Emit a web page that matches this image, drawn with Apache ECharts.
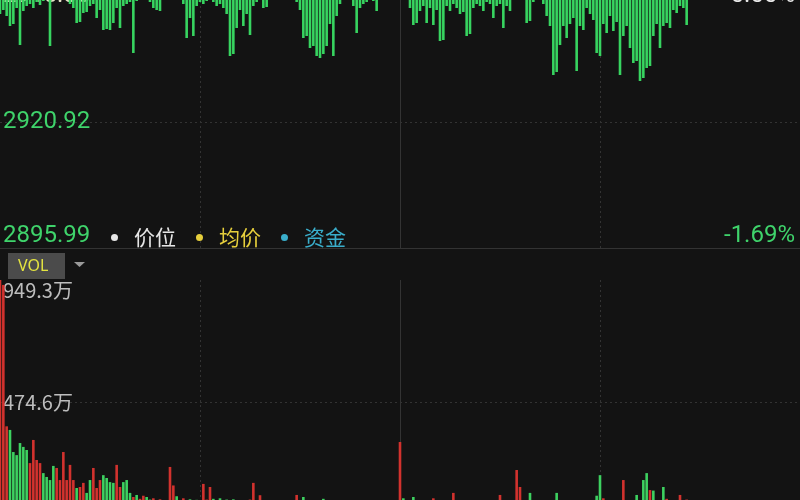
<!DOCTYPE html>
<html>
<head>
<meta charset="utf-8">
<title>分时</title>
<script src="https://cdn.jsdelivr.net/npm/echarts@6.0.0/dist/echarts.min.js"></script>
<style>
html,body{margin:0;padding:0;background:#131313;}
#m1{width:800px;height:500px;}
</style>
</head>
<body>
<div id="m1"></div>
<script>
// axis tick labels
var priceTicks=['2895.99','2920.92','2945.85'];
var pctTicks=['-1.69%','','0.00%'];
var volTicks=['','474.6万','949.3万'];
var volStep=474.65;

// 资金 bars, hanging from the prev-close line (depth units)
var fundData=[18,14,20,30,28,12,49,15,10,8,
12,6,9,5,0,50,0,0,0,0,
0,8,12,27,26,17,16,10,8,22,
14,34,33,34,27,12,32,10,8,6,
57,5,4,0,0,6,12,14,15,0,
0,0,0,0,0,8,42,22,40,10,
6,8,5,0,6,10,8,12,18,60,
58,32,14,30,18,39,10,6,0,12,
11,0,0,0,0,0,0,0,0,6,
14,42,40,52,50,60,62,58,50,28,
60,20,8,4,0,0,10,37,12,8,
6,0,5,15,4,0,0,0,0,0,
0,0,0,12,29,27,15,10,27,12,
29,14,45,44,10,15,8,12,18,16,
40,38,12,8,10,15,6,8,22,10,
8,32,10,15,4,0,0,0,27,25,
6,0,0,8,20,30,79,76,49,30,
42,28,22,75,30,34,12,18,24,57,
60,28,37,20,35,26,79,40,30,52,
67,65,85,82,72,70,40,28,52,30,
27,32,14,17,10,12,29];

// volume per minute (万) and direction (1 up / -1 down)
var volData=[949,930,380,366,280,268,315,300,288,237,
327,249,237,198,183,171,226,218,171,280,
171,230,171,140,144,160,121,171,218,140,
171,190,179,163,160,230,144,163,171,121,
105,113,98,110,105,95,100,92,96,88,
85,222,150,108,92,100,90,96,88,94,
90,156,95,144,98,90,100,92,95,88,
96,90,84,92,88,95,160,90,112,85,
88,80,76,82,70,78,84,72,90,113,
86,105,80,74,70,78,72,98,66,74,
70,64,72,68,62,70,76,66,60,68,
64,58,66,62,70,60,56,64,58,70,
319,100,82,76,105,72,80,70,78,66,
100,72,68,74,64,70,121,66,62,70,
68,60,72,64,58,66,62,70,60,64,
113,70,66,72,78,210,144,82,76,121,
70,66,74,68,72,80,78,121,70,64,
72,68,76,70,66,74,80,72,84,110,
190,100,78,74,82,76,88,171,80,84,
86,113,90,171,198,132,130,84,90,144,
98,80,74,86,113,78,95];
var volDir=[1,1,1,-1,-1,-1,-1,-1,-1,1,
1,1,1,-1,-1,-1,-1,1,1,1,
1,1,1,-1,1,1,-1,-1,1,1,
1,-1,-1,-1,-1,1,1,-1,-1,-1,
1,-1,1,1,-1,-1,1,-1,1,-1,
1,1,1,-1,-1,1,-1,-1,1,-1,
1,1,1,1,-1,1,-1,1,-1,1,
-1,1,-1,1,-1,1,1,-1,1,-1,
1,-1,1,-1,-1,1,-1,1,-1,1,
1,-1,1,-1,1,-1,-1,-1,1,-1,
1,-1,-1,1,-1,1,-1,1,1,-1,
-1,1,-1,1,-1,1,1,-1,1,-1,
1,-1,1,-1,-1,1,-1,1,-1,1,
1,-1,1,-1,1,-1,1,-1,-1,1,
-1,1,-1,1,1,-1,1,-1,1,-1,
1,-1,1,-1,1,1,1,-1,1,-1,
1,-1,1,-1,1,-1,1,-1,1,-1,
1,-1,-1,1,-1,1,-1,1,-1,-1,
-1,1,1,-1,1,-1,1,1,-1,1,
-1,-1,1,-1,-1,1,-1,1,-1,-1,
1,-1,1,-1,1,-1,1];

var upColor='#d2322e', downColor='#3dd160', fundColor='#37d460';
var gridColor='#333';

// trading minutes 09:30-11:30, 13:01-15:00
var times=[];
for(var t=570;t<=900;t++){
    if(t>690&&t<=780) continue;
    var hh=Math.floor(t/60), mm=t%60;
    times.push((hh<10?'0':'')+hh+':'+(mm<10?'0':'')+mm);
}

var volSeries=[];
for(var i=0;i<volData.length;i++){
    volSeries.push({value:volData[i],itemStyle:{color:volDir[i]>0?upColor:downColor}});
}

var midLine={silent:true,symbol:'none',z:1,label:{show:false},
    lineStyle:{color:gridColor,type:'solid',width:1},data:[{xAxis:times[120]}]};

function xAx(idx,line){
    return {type:'category',gridIndex:idx,data:times,boundaryGap:false,
        axisLine:{show:line,lineStyle:{color:gridColor}},
        axisTick:{show:false},axisLabel:{show:false},
        splitLine:{show:true,interval:function(i){return i===60||i===180;},
            lineStyle:{color:gridColor,type:[2,3]}}};
}

var myChart=echarts.init(document.getElementById('m1'));
var option={
    backgroundColor:'#131313',
    animation:false,
    legend:{
        left:111,top:227,padding:0,icon:'circle',itemWidth:7,itemHeight:7,itemGap:20,
        selectedMode:false,
        textStyle:{fontSize:21,fontFamily:'Noto Sans CJK SC',padding:[0,0,0,11]},
        data:[
            {name:'价位',itemStyle:{color:'#e6e6e6'},textStyle:{color:'#e6e6e6'}},
            {name:'均价',itemStyle:{color:'#e6cf3c'},textStyle:{color:'#e6cf3c'}},
            {name:'资金',itemStyle:{color:'#3aaecb'},textStyle:{color:'#3aaecb'}}
        ]
    },
    grid:[
        {left:0,right:0,top:-4,height:252,outerBoundsMode:'none'},
        {left:0,right:0,top:280,height:244,outerBoundsMode:'none'}
    ],
    xAxis:[xAx(0,true),xAx(1,false)],
    yAxis:[
        {type:'value',gridIndex:0,min:0,max:2,interval:1,position:'left',
            axisLine:{show:false},axisTick:{show:false},
            splitLine:{show:true,lineStyle:{color:['rgba(0,0,0,0)',gridColor,'rgba(0,0,0,0)'],type:[2,3]}},
            axisLabel:{inside:true,margin:3,fontSize:24,fontFamily:'Roboto',
                verticalAlignMinLabel:'bottom',
                formatter:function(v){return priceTicks[v];},
                color:function(v){return v>=2?'#e8e4c8':'#3fd36b';}}},
        {type:'value',gridIndex:0,min:0,max:2,interval:1,position:'right',
            axisLine:{show:false},axisTick:{show:false},splitLine:{show:false},
            axisLabel:{inside:true,margin:5,fontSize:24,fontFamily:'Roboto',
                verticalAlignMinLabel:'bottom',
                formatter:function(v){return pctTicks[v];},
                color:function(v){return v>=2?'#e8e8e8':'#3fd36b';}}},
        {type:'value',gridIndex:0,min:0,max:252,inverse:true,show:false},
        {type:'value',gridIndex:1,min:0,max:volStep*2,interval:volStep,position:'left',
            axisLine:{show:false},axisTick:{show:false},
            splitLine:{show:true,lineStyle:{color:['rgba(0,0,0,0)',gridColor,'rgba(0,0,0,0)'],type:[2,3]}},
            axisLabel:{inside:true,margin:3,fontSize:20,fontFamily:'Noto Sans CJK SC',color:'#bdbdbd',
                verticalAlignMaxLabel:'top',
                formatter:function(v){return volTicks[Math.round(v/volStep)];}}}
    ],
    graphic:[
        {type:'rect',left:8,top:253,shape:{width:57,height:26},style:{fill:'#4b4b4b'}},
        {type:'text',left:18,top:258,style:{text:'VOL',fill:'#e4e440',font:'16px "Noto Sans"'}},
        {type:'polygon',shape:{points:[[74,262],[85,262],[79.5,267]]},style:{fill:'#9a9a9a'}}
    ],
    series:[
        {name:'价位',type:'line',xAxisIndex:0,yAxisIndex:0,data:[],showSymbol:false},
        {name:'均价',type:'line',xAxisIndex:0,yAxisIndex:0,data:[],showSymbol:false},
        {name:'资金',type:'bar',xAxisIndex:0,yAxisIndex:2,data:fundData,barWidth:2.6,
            itemStyle:{color:fundColor},markLine:midLine},
        {name:'成交量',type:'bar',xAxisIndex:1,yAxisIndex:3,data:volSeries,barWidth:2.6,
            markLine:midLine}
    ]
};
myChart.setOption(option);
</script>
</body>
</html>
